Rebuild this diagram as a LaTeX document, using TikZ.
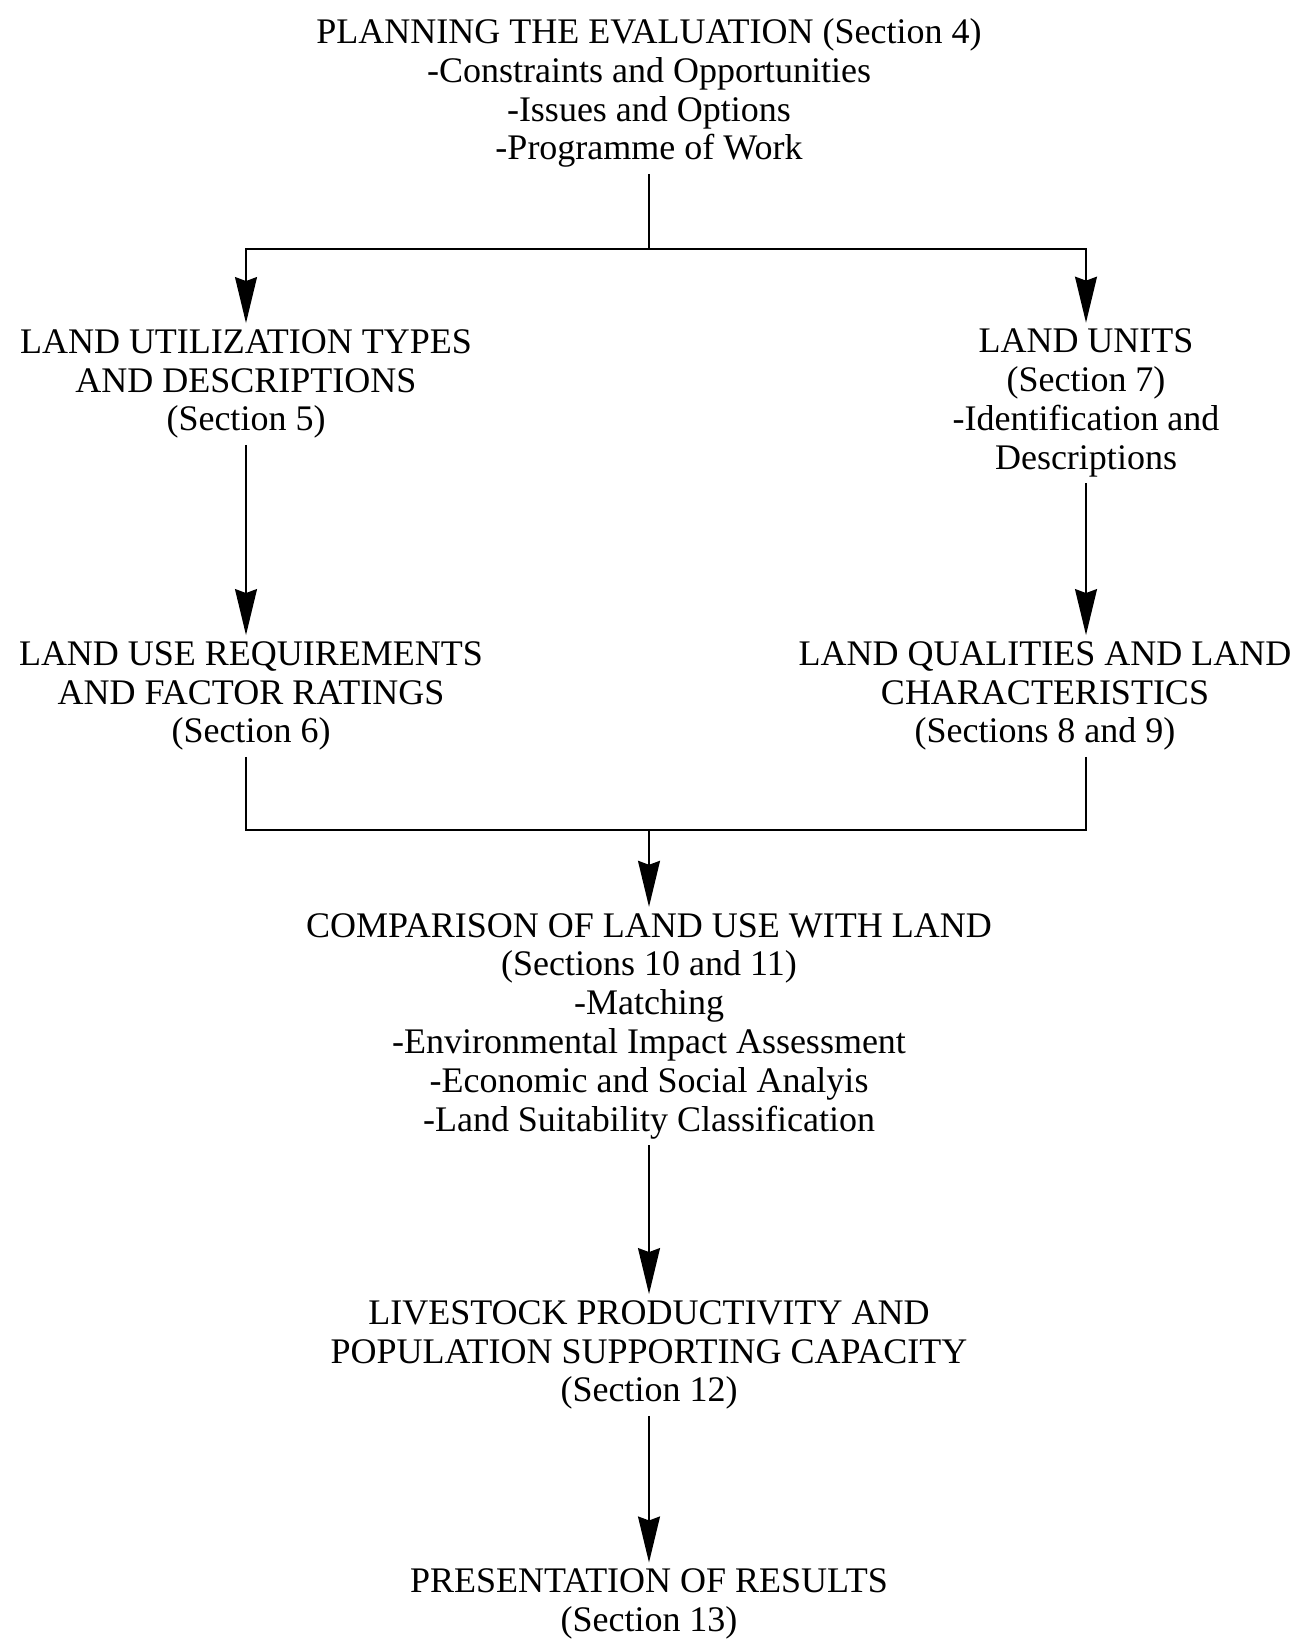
\documentclass[tikz,border=0pt]{standalone}
\usepackage{fontspec}
\setmainfont{Liberation Serif}
\usetikzlibrary{arrows.meta}
\begin{document}
\begin{tikzpicture}[x=0.5pt,y=-0.5pt,
  lbl/.style={align=center,inner sep=3pt,font=\fontsize{18}{19.4}\selectfont},
  conn/.style={line width=0.8pt},
  arr/.style={conn,-{Stealth[length=23pt,width=11pt,inset=2pt]}}]
\useasboundingbox[fill=white] (0,0) rectangle (1291,1642);
\node[lbl] (top) at (649,93) {PLANNING THE EVALUATION (Section 4)\\-Constraints and Opportunities\\-Issues and Options\\-Programme of Work};
\node[lbl] (lut) at (246,384) {LAND UTILIZATION TYPES\\AND DESCRIPTIONS\\(Section 5)};
\node[lbl] (lu) at (1086,403) {LAND UNITS\\(Section 7)\\-Identification and\\Descriptions};
\node[lbl] (lur) at (251,696) {LAND USE REQUIREMENTS\\AND FACTOR RATINGS\\(Section 6)};
\node[lbl] (lq) at (1045,696) {LAND QUALITIES AND LAND\\CHARACTERISTICS\\(Sections 8 and 9)};
\node[lbl] (comp) at (649,1026) {COMPARISON OF LAND USE WITH LAND\\(Sections 10 and 11)\\-Matching\\-Environmental Impact Assessment\\-Economic and Social Analyis\\-Land Suitability Classification};
\node[lbl] (live) at (649,1355) {LIVESTOCK PRODUCTIVITY AND\\POPULATION SUPPORTING CAPACITY\\(Section 12)};
\node[lbl] (pres) at (649,1604) {PRESENTATION OF RESULTS\\(Section 13)};
\coordinate (j1) at (649,249);
\coordinate (j2) at (649,830);
\coordinate (la) at (246,0);
\coordinate (ra) at (1086,0);
\draw[conn] (top.south) -- (j1);
\draw[arr] (j1) -| (la |- lut.north);
\draw[arr] (j1) -| (ra |- lu.north);
\draw[arr] (la |- lut.south) -- (la |- lur.north);
\draw[arr] (ra |- lu.south) -- (ra |- lq.north);
\draw[conn] (la |- lur.south) |- (j2);
\draw[conn] (ra |- lq.south) |- (j2);
\draw[arr] (j2) -- (comp.north);
\draw[arr] (comp.south) -- (live.north);
\draw[arr] (live.south) -- (pres.north);
\end{tikzpicture}
\end{document}
